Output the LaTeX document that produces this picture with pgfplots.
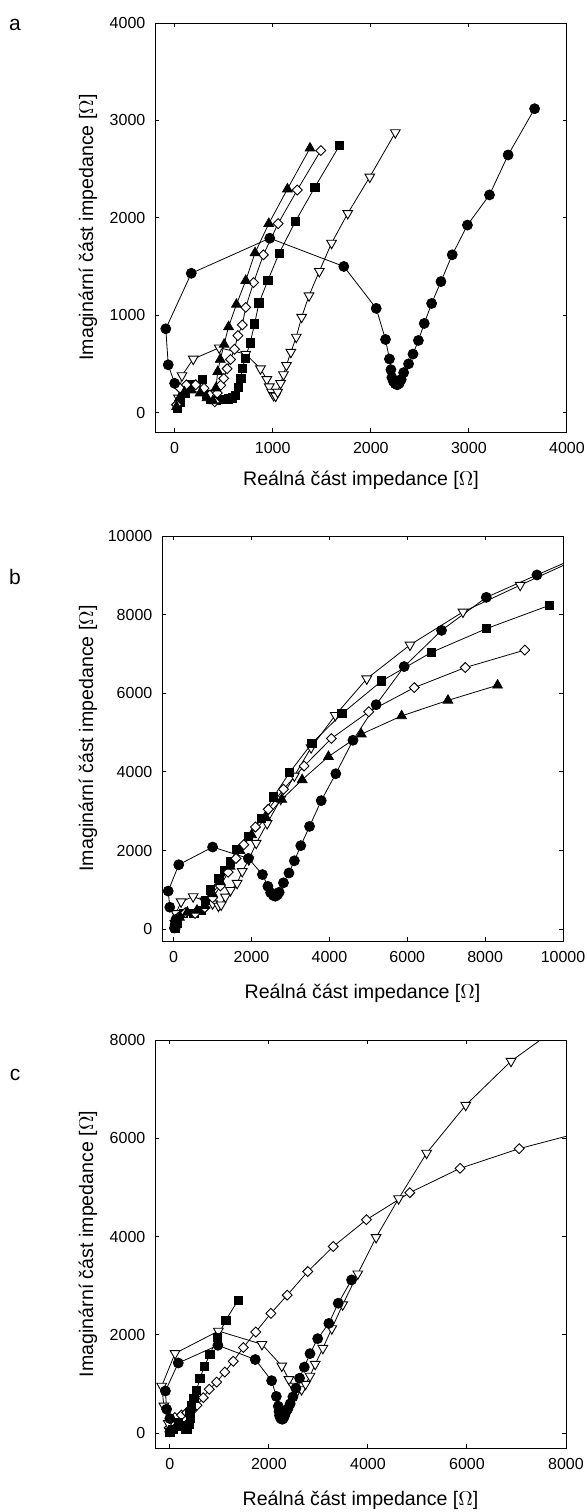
\documentclass[border=0pt]{standalone}
\usepackage{fontspec}
\setmainfont{Liberation Sans}
\usepackage{pgfplots}
\usepackage{pgfplotstable}
\pgfplotsset{compat=1.18}

% ---------- panel a ----------
\pgfplotstableread{
x y
0 300
-65 490
-90 860
170 1430
970 1790
1725 1500
2055 1070
2150 750
2190 550
2205 440
2215 360
2230 320
2250 295
2270 285
2290 300
2310 340
2335 410
2385 500
2430 600
2485 740
2545 915
2620 1120
2715 1345
2830 1620
2985 1925
3210 2235
3400 2645
3670 3120
}\Acirc
\pgfplotstableread{
x y
40 150
75 380
190 550
455 665
725 600
875 450
940 340
965 265
990 210
1010 175
1030 170
1050 210
1080 300
1110 390
1140 485
1185 620
1240 775
1295 980
1370 1200
1475 1450
1600 1740
1765 2045
1990 2420
2250 2875
}\Adtri
\pgfplotstableread{
x y
30 40
60 100
110 200
165 290
280 340
330 190
370 135
430 130
500 135
545 140
585 150
620 180
650 260
675 350
690 450
720 560
770 715
815 910
860 1125
950 1355
1065 1635
1230 1960
1430 2315
1680 2740
}\Asq
\pgfplotstableread{
x y
20 80
55 250
120 285
215 285
300 250
360 180
410 110
435 200
470 280
500 350
535 450
570 545
610 650
645 790
690 900
725 1080
805 1335
905 1620
1055 1940
1250 2285
1490 2690
}\Adia
\pgfplotstableread{
x y
20 60
50 150
100 210
170 230
260 200
330 150
390 120
420 250
440 420
465 545
505 700
550 880
630 1110
725 1355
820 1640
960 1940
1150 2295
1380 2715
}\Autri

% ---------- panel b ----------
\pgfplotstableread{
x y
20 30
40 120
60 250
-100 560
-140 970
130 1640
1000 2090
1920 1800
2280 1390
2420 1090
2490 930
2560 860
2610 840
2660 870
2710 940
2820 1180
2960 1430
3100 1740
3265 2125
3490 2615
3790 3270
4165 3955
4605 4805
5200 5710
5920 6680
6880 7600
8030 8440
9330 9010
}\Bcirc
\pgfplotstableread{
x y
30 150
60 400
190 700
500 830
800 720
1000 650
1150 590
1220 620
1330 820
1460 990
1630 1170
1760 1470
1930 1770
2120 2190
2400 2690
2750 3310
3100 3900
3530 4620
4150 5440
4960 6370
6070 7230
7430 8070
8900 8750
}\Bdtri
\pgfplotstableread{
x y
50 30
100 150
250 400
520 410
700 480
820 740
950 1000
1160 1290
1300 1500
1460 1710
1610 2030
1920 2360
2250 2820
2565 3365
2980 3990
3550 4730
4320 5480
5345 6315
6610 7035
8035 7645
9645 8235
}\Bsq
\pgfplotstableread{
x y
40 100
120 300
300 420
550 400
800 550
1000 800
1200 1100
1400 1450
1600 1800
1800 2150
2100 2600
2430 3050
2820 3560
3350 4150
4050 4850
5010 5530
6180 6145
7490 6655
9020 7100
}\Bdia
\pgfplotstableread{
x y
40 80
150 300
350 430
600 480
800 600
1000 900
1200 1200
1450 1600
1700 2000
2000 2400
2370 2840
2775 3300
3300 3800
3975 4390
4820 4960
5855 5425
7045 5820
8320 6205
}\Butri

% ---------- panel c ----------
\pgfplotstableread{
x y
0 20
60 80
170 210
260 150
310 80
350 90
390 180
410 300
405 420
440 555
485 705
540 880
605 1110
695 1355
810 1605
955 1945
1130 2300
1380 2710
}\Csq
\pgfplotstableread{
x y
0 30
-15 110
15 215
100 320
235 370
340 420
440 455
550 570
675 725
795 895
945 1040
1110 1245
1280 1465
1485 1745
1735 2060
2040 2440
2370 2810
2785 3290
3300 3800
3970 4345
4845 4895
5860 5390
7055 5790
}\Cdia
\pgfplotstableread{
x y
0 50
-30 200
-120 555
-165 960
105 1625
980 2080
1860 1810
2260 1370
2405 1095
2490 960
2570 860
2660 890
2740 1000
2830 1165
2935 1405
3090 1730
3270 2130
3490 2615
3795 3245
4165 3985
4620 4775
5185 5700
5975 6675
6890 7570
}\Cdtri

\pgfplotsset{
  panel/.style={
    scale only axis, anchor=south west,
    axis line style={line width=0.5pt},
    tick align=inside, major tick length=2pt,
    tick style={black, line width=0.5pt},
    tick label style={font=\fontsize{8}{9.5}\selectfont},
    scaled ticks=false,
    /pgf/number format/assume math mode=true,
    /pgf/number format/1000 sep={},
    label style={font=\fontsize{9.8}{11.5}\selectfont},
    xlabel={Reálná část impedance [$\Omega$]},
    ylabel={Imaginární část impedance [$\Omega$]},
    yticklabel style={xshift=-1.3pt},
    xticklabel style={yshift=-1.8pt},
  },
  sline/.style={black, line width=0.4pt},
  circ/.style={sline, mark=*, mark size=2.5pt, mark options={fill=black, draw=black, line width=0.4pt}},
  dtri/.style={sline, mark=triangle*, mark size=2.8pt, mark options={rotate=180, fill=white, draw=black, line width=0.45pt}},
  utri/.style={sline, mark=triangle*, mark size=2.8pt, mark options={fill=black, draw=black, line width=0.4pt}},
  sq/.style={sline, mark=square*, mark size=2.05pt, mark options={fill=black, draw=black, line width=0.4pt}},
  dia/.style={sline, mark=square*, mark size=1.75pt, mark options={rotate=45, fill=white, draw=black, line width=0.45pt}},
}

\begin{document}
\begin{tikzpicture}

% ---------------- a ----------------
\begin{axis}[panel, at={(77.5pt,-216pt)}, width=206pt, height=204.5pt,
  xmin=-200, xmax=4000, ymin=-200, ymax=4000,
  xtick={0,1000,2000,3000,4000}, ytick={0,1000,2000,3000,4000},
  xlabel style={at={(axis description cs:0.5,-0.1174)}, anchor=center},
  ylabel style={at={(axis description cs:-0.1626,0.5)}, anchor=center}]
\addplot[dtri] table {\Adtri};
\addplot[sq] table {\Asq};
\addplot[dia] table {\Adia};
\addplot[utri] table {\Autri};
\addplot[circ] table {\Acirc};
\end{axis}

% ---------------- b ----------------
\begin{axis}[panel, at={(81pt,-470.5pt)}, width=200.5pt, height=202.5pt,
  xmin=-300, xmax=10000, ymin=-300, ymax=10000,
  xtick={0,2000,4000,6000,8000,10000}, ytick={0,2000,4000,6000,8000,10000},
  xlabel style={at={(axis description cs:0.5,-0.128)}, anchor=center},
  ylabel style={at={(axis description cs:-0.1845,0.5)}, anchor=center}]
\addplot[sline] coordinates {(9330,9010) (10700,9600)};
\addplot[sline] coordinates {(8900,8750) (10600,9520)};
\addplot[dtri] table {\Bdtri};
\addplot[sq] table {\Bsq};
\addplot[dia] table {\Bdia};
\addplot[utri] table {\Butri};
\addplot[circ] table {\Bcirc};
\end{axis}

% ---------------- c ----------------
\begin{axis}[panel, at={(77.5pt,-724pt)}, width=205.5pt, height=204pt,
  xmin=-300, xmax=8000, ymin=-300, ymax=8000,
  xtick={0,2000,4000,6000,8000}, ytick={0,2000,4000,6000,8000},
  xlabel style={at={(axis description cs:0.5,-0.127)}, anchor=center},
  ylabel style={at={(axis description cs:-0.163,0.5)}, anchor=center}]
\addplot[sline] coordinates {(7055,5790) (8600,6200)};
\addplot[sline] coordinates {(6890,7570) (8100,8450)};
\addplot[dia] table {\Cdia};
\addplot[dtri] table {\Cdtri};
\addplot[sq] table {\Csq};
\addplot[circ] table {\Acirc};
\end{axis}

\node[font=\fontsize{10.5}{12}\selectfont] at (7.5pt,-12.5pt) {a};
\node[font=\fontsize{10.5}{12}\selectfont] at (7.5pt,-288.5pt) {b};
\node[font=\fontsize{10.5}{12}\selectfont] at (7.5pt,-537.5pt) {c};

\pgfresetboundingbox
\path[use as bounding box] (0pt,0pt) rectangle (293.5pt,-756pt);
\end{tikzpicture}
\end{document}
